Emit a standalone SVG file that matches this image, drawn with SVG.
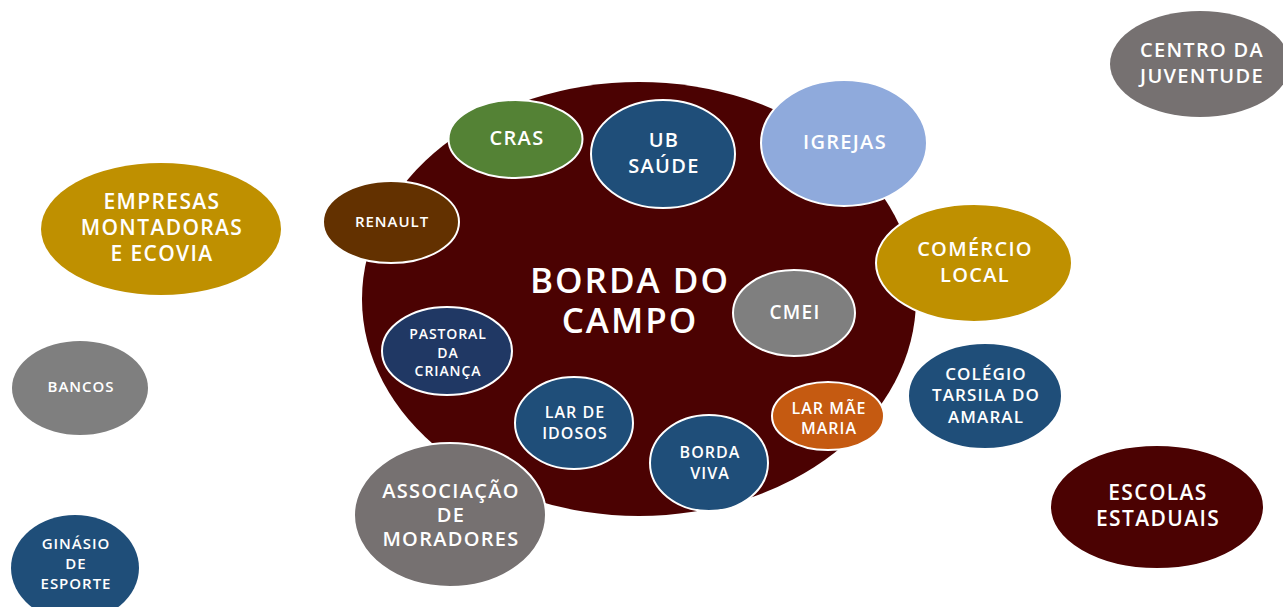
<svg xmlns="http://www.w3.org/2000/svg" width="1283" height="607" viewBox="0 0 1283 607">
<style>
text{font-family:"Open Sans","Liberation Sans",sans-serif;font-weight:600;fill:#fff;text-anchor:middle;letter-spacing:0.065em}
.n{stroke:#fff;stroke-width:2}
.o{stroke:none}
</style>
<rect width="1283" height="607" fill="#fff"/>
<g id="connectors"></g>
<g id="borda-do-campo"><ellipse class="o" cx="639" cy="299" rx="277" ry="217" fill="#4b0202"/>
<text font-size="35" style="letter-spacing:2px"><tspan x="630" y="293">BORDA DO</tspan><tspan x="630" y="333">CAMPO</tspan></text></g>
<g id="cras"><ellipse class="n" cx="515.5" cy="139" rx="67" ry="39" fill="#548235"/>
<text font-size="20"><tspan x="517" y="145">CRAS</tspan></text></g>
<g id="ub-saude"><ellipse class="n" cx="663" cy="154" rx="72" ry="54" fill="#1f4e79"/>
<text font-size="20"><tspan x="664" y="147">UB</tspan><tspan x="664" y="173">SAÚDE</tspan></text></g>
<g id="igrejas"><ellipse class="n" cx="844" cy="143" rx="83" ry="63" fill="#8faadc"/>
<text font-size="20"><tspan x="845" y="149">IGREJAS</tspan></text></g>
<g id="renault"><ellipse class="n" cx="391" cy="222" rx="68" ry="41" fill="#633100"/>
<text font-size="15"><tspan x="392" y="227">RENAULT</tspan></text></g>
<g id="comercio-local"><ellipse class="n" cx="974" cy="263" rx="98" ry="59" fill="#bf9000"/>
<text font-size="20"><tspan x="975" y="256">COMÉRCIO</tspan><tspan x="975" y="282">LOCAL</tspan></text></g>
<g id="cmei"><ellipse class="n" cx="794" cy="313" rx="61" ry="43" fill="#7f7f7f"/>
<text font-size="19"><tspan x="795" y="319">CMEI</tspan></text></g>
<g id="pastoral"><ellipse class="n" cx="447" cy="351" rx="65" ry="44" fill="#203864"/>
<text font-size="14"><tspan x="448" y="339">PASTORAL</tspan><tspan x="448" y="358">DA</tspan><tspan x="448" y="376">CRIANÇA</tspan></text></g>
<g id="lar-de-idosos"><ellipse class="n" cx="574" cy="423" rx="59" ry="46" fill="#1f4e79"/>
<text font-size="16"><tspan x="575" y="418">LAR DE</tspan><tspan x="575" y="439">IDOSOS</tspan></text></g>
<g id="borda-viva"><ellipse class="n" cx="709" cy="463" rx="59" ry="48" fill="#1f4e79"/>
<text font-size="16"><tspan x="710" y="458">BORDA</tspan><tspan x="710" y="479">VIVA</tspan></text></g>
<g id="lar-mae-maria"><ellipse class="n" cx="828" cy="416" rx="56" ry="34" fill="#c55a11"/>
<text font-size="16"><tspan x="829" y="414">LAR MÃE</tspan><tspan x="829" y="434">MARIA</tspan></text></g>
<g id="colegio"><ellipse class="n" cx="985" cy="396" rx="77" ry="53" fill="#1f4e79"/>
<text font-size="17"><tspan x="986" y="380">COLÉGIO</tspan><tspan x="986" y="401">TARSILA DO</tspan><tspan x="986" y="423">AMARAL</tspan></text></g>
<g id="escolas-estaduais"><ellipse class="n" cx="1157" cy="507" rx="107" ry="62" fill="#4b0202"/>
<text font-size="21"><tspan x="1158" y="500">ESCOLAS</tspan><tspan x="1158" y="526">ESTADUAIS</tspan></text></g>
<g id="associacao"><ellipse class="n" cx="450" cy="515" rx="96" ry="72" fill="#767171"/>
<text font-size="20"><tspan x="451" y="498">ASSOCIAÇÃO</tspan><tspan x="451" y="522">DE</tspan><tspan x="451" y="546">MORADORES</tspan></text></g>
<g id="empresas"><ellipse class="o" cx="161" cy="229" rx="120" ry="66" fill="#bf9000"/>
<text font-size="21"><tspan x="162" y="209">EMPRESAS</tspan><tspan x="162" y="235">MONTADORAS</tspan><tspan x="162" y="261">E ECOVIA</tspan></text></g>
<g id="bancos"><ellipse class="o" cx="80" cy="388" rx="68" ry="47" fill="#7f7f7f"/>
<text font-size="15"><tspan x="81" y="392">BANCOS</tspan></text></g>
<g id="ginasio"><ellipse class="o" cx="75" cy="568" rx="64" ry="53" fill="#1f4e79"/>
<text font-size="15"><tspan x="76" y="549">GINÁSIO</tspan><tspan x="76" y="569">DE</tspan><tspan x="76" y="589">ESPORTE</tspan></text></g>
<g id="centro-da-juventude"><ellipse class="o" cx="1200" cy="64" rx="90" ry="53" fill="#767171"/>
<text font-size="20"><tspan x="1202" y="57">CENTRO DA</tspan><tspan x="1202" y="83">JUVENTUDE</tspan></text></g>
</svg>
